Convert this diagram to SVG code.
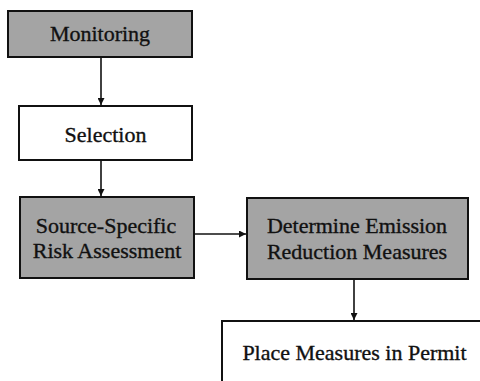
<svg xmlns="http://www.w3.org/2000/svg" width="480" height="381" viewBox="0 0 480 381">
  <defs>
    <marker id="arrow" viewBox="0 0 10 10" refX="10" refY="5" markerWidth="7" markerHeight="7" markerUnits="userSpaceOnUse" orient="auto">
      <path d="M0,0 L10,5 L0,10 z" fill="#111"/>
    </marker>
  </defs>
  <style>
    .box { stroke: #111; stroke-width: 2; }
    .shaded { fill: #a4a4a4; }
    .plain { fill: #ffffff; }
    .label { font-size: 22px; fill: #111; stroke: #111; stroke-width: 0.35; text-anchor: middle; }
    .conn { stroke: #111; stroke-width: 1.6; fill: none; marker-end: url(#arrow); }
  </style>
  <rect width="480" height="381" fill="#ffffff"/>

  <g font-family="'Liberation Serif', 'Times New Roman', serif">
    <g id="monitoring">
      <rect class="box shaded" x="8" y="11" width="184" height="46"/>
      <text class="label" x="100" y="41">Monitoring</text>
    </g>

    <g id="selection">
      <rect class="box plain" x="19" y="106" width="173" height="54"/>
      <text class="label" x="105.5" y="142">Selection</text>
    </g>

    <g id="risk-assessment">
      <rect class="box shaded" x="20" y="197" width="174" height="81"/>
      <text class="label" x="106" y="233">Source-Specific</text>
      <text class="label" x="107" y="258">Risk Assessment</text>
    </g>

    <g id="emission-reduction">
      <rect class="box shaded" x="247" y="198" width="221" height="81"/>
      <text class="label" x="357" y="233">Determine Emission</text>
      <text class="label" x="357" y="259">Reduction Measures</text>
    </g>

    <g id="permit">
      <rect class="box plain" x="222" y="321" width="300" height="100"/>
      <text class="label" x="354.5" y="360">Place Measures in Permit</text>
    </g>
  </g>

  <g id="connectors">
    <line class="conn" x1="101" y1="57" x2="101" y2="105"/>
    <line class="conn" x1="101" y1="160" x2="101" y2="196"/>
    <line class="conn" x1="194" y1="234" x2="246" y2="234"/>
    <line class="conn" x1="354" y1="279" x2="354" y2="320"/>
  </g>
</svg>
